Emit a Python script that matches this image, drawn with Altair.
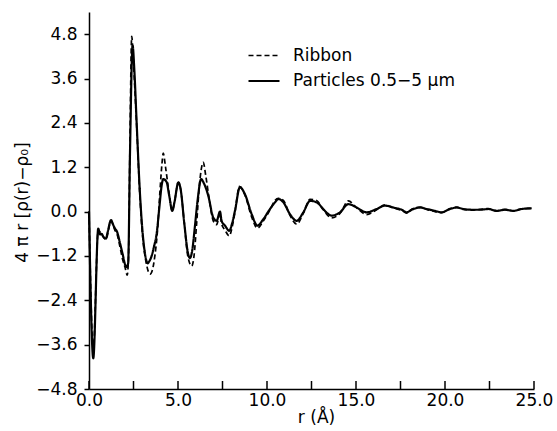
import altair as alt
import pandas as pd

# Particles 0.5-5 um (solid)
r_particles = [0.0, 0.24, 0.52, 0.62, 0.71, 0.8, 0.95, 1.05, 1.24, 1.35, 1.45, 1.58, 1.74, 1.89,
               2.02, 2.12, 2.2, 2.3, 2.45, 2.55, 2.68, 2.85, 3.0, 3.15, 3.3, 3.38, 3.52, 3.65,
               3.8, 3.95, 4.08, 4.17, 4.36, 4.5, 4.68, 4.8, 5.02, 5.15, 5.35, 5.55, 5.67, 5.8,
               5.95, 6.1, 6.3, 6.42, 6.7, 6.98, 7.17, 7.36, 7.45, 7.64, 7.88, 8.05, 8.2, 8.48,
               8.76, 9.14, 9.46, 9.8, 10.17, 10.45, 10.64, 10.92, 11.29, 11.67, 12.04, 12.42,
               12.79, 13.16, 13.4, 13.63, 14.1, 14.57, 15.04, 15.35, 15.6, 16.16, 16.63, 17.1,
               17.57, 17.85, 18.13, 18.6, 18.97, 19.44, 19.8, 20.28, 20.66, 21.03, 21.5, 21.97,
               22.43, 22.9, 23.37, 23.84, 24.3, 24.87]
v_particles = [0.0, -3.97, -0.46, -0.62, -0.6, -0.68, -0.73, -0.55, -0.23, -0.35, -0.45, -0.55,
               -0.85, -1.15, -1.42, -1.5, -1.4, 1.5, 4.49, 3.8, 2.37, 0.6, -0.5, -1.15, -1.4,
               -1.35, -1.2, -0.95, -0.6, 0.1, 0.7, 0.88, 0.8, 0.45, 0.02, 0.25, 0.79, 0.6, -0.3,
               -1.1, -1.26, -1.05, -0.4, 0.3, 0.88, 0.8, 0.43, -0.16, -0.25, 0.0, -0.25, -0.38,
               -0.52, -0.3, 0.02, 0.66, 0.47, -0.07, -0.38, -0.2, 0.07, 0.25, 0.34, 0.25, -0.07,
               -0.25, -0.02, 0.29, 0.25, 0.07, -0.05, -0.11, -0.02, 0.2, 0.11, 0.02, -0.02, 0.07,
               0.16, 0.11, 0.05, -0.02, 0.05, 0.11, 0.07, 0.02, -0.02, 0.07, 0.11, 0.07, 0.05,
               0.05, 0.07, 0.02, 0.05, 0.02, 0.07, 0.09]

# Ribbon (dashed)
r_ribbon = [0.0, 0.24, 0.52, 0.71, 0.95, 1.24, 1.45, 1.58, 1.74, 1.89, 2.02, 2.15, 2.22, 2.3,
            2.4, 2.5, 2.68, 2.85, 3.0, 3.2, 3.43, 3.55, 3.7, 3.85, 3.98, 4.1, 4.17, 4.3, 4.5,
            4.68, 4.8, 5.02, 5.15, 5.35, 5.55, 5.77, 5.9, 6.05, 6.2, 6.42, 6.55, 6.75, 6.98,
            7.17, 7.36, 7.45, 7.64, 7.88, 8.05, 8.2, 8.45, 8.76, 9.14, 9.46, 9.8, 10.17, 10.45,
            10.64, 10.92, 11.29, 11.67, 12.04, 12.42, 12.79, 13.16, 13.63, 14.1, 14.57, 15.04,
            15.6, 16.16, 16.63, 17.1, 17.57, 17.85, 18.13, 18.6, 18.97, 19.44, 19.8, 20.28,
            20.66, 21.03, 21.5, 21.97, 22.43, 22.9, 23.37, 23.84, 24.3, 24.87]
v_ribbon = [0.0, -3.73, -0.5, -0.62, -0.75, -0.25, -0.5, -0.62, -0.95, -1.3, -1.5, -1.72, -1.2,
            1.8, 4.74, 4.0, 2.3, 0.5, -0.6, -1.35, -1.69, -1.6, -1.2, -0.5, 0.5, 1.3, 1.58, 1.2,
            0.5, 0.02, 0.25, 0.79, 0.6, -0.3, -1.2, -1.47, -1.2, -0.3, 0.7, 1.33, 1.0, 0.35,
            -0.25, -0.35, -0.05, -0.33, -0.5, -0.66, -0.4, -0.02, 0.68, 0.45, -0.15, -0.45,
            -0.25, 0.05, 0.3, 0.36, 0.3, -0.1, -0.34, -0.05, 0.33, 0.3, 0.05, -0.17, -0.05,
            0.29, 0.1, -0.08, 0.05, 0.18, 0.1, 0.03, -0.04, 0.06, 0.12, 0.06, 0.0, -0.03, 0.08,
            0.12, 0.06, 0.04, 0.06, 0.08, 0.02, 0.06, 0.02, 0.07, 0.09]

series_names = ["Ribbon", "Particles 0.5\u22125 \u03bcm"]
x_label_values = [0, 5, 10, 15, 20, 25]
x_tick_values = [0, 2.5, 5, 7.5, 10, 12.5, 15, 17.5, 20, 22.5, 25]
y_tick_values = [-4.8, -3.6, -2.4, -1.2, 0.0, 1.2, 2.4, 3.6, 4.8]

FONT = "DejaVu Sans"
FS = 17

df = pd.concat([
    pd.DataFrame({"r": r_ribbon, "v": v_ribbon, "series": series_names[0]}),
    pd.DataFrame({"r": r_particles, "v": v_particles, "series": series_names[1]}),
])
ticks_df = pd.DataFrame({"t": x_tick_values})

xscale = alt.Scale(domain=[0, 25], nice=False, zero=False)
yscale = alt.Scale(domain=[-4.8, 5.4], nice=False, zero=False)

lines = alt.Chart(df).mark_line(color="black", interpolate="monotone").encode(
    x=alt.X("r:Q", scale=xscale,
            axis=alt.Axis(values=x_label_values, format=".1f", ticks=False,
                          labelFlush=False, labelPadding=3, labelFontSize=FS,
                          labelFont=FONT, labelColor="black",
                          title="r  (\u00c5)", titleFont=FONT,
                          titleFontSize=FS, titleFontWeight="normal", titleColor="black",
                          titleX=227, titleY=33, titleBaseline="alphabetic",
                          titleAlign="center",
                          domainColor="black", domainWidth=1.5, grid=False)),
    y=alt.Y("v:Q", scale=yscale,
            axis=alt.Axis(values=y_tick_values, tickSize=5,
                          labelExpr="replace(format(datum.value, '.1f'), '-', '\u2212')",
                          labelFlush=False,
                          tickColor="black", tickWidth=1.5, labelPadding=7,
                          labelFontSize=FS, labelFont=FONT, labelColor="black",
                          title="4 \u03c0 r [\u03c1(r)\u2212\u03c1\u2080]", titleFont=FONT,
                          titleFontSize=FS, titleFontWeight="normal", titleColor="black",
                          titleAngle=-90, titleX=-67, titleY=190, titleAlign="center",
                          titleBaseline="middle", domainColor="black", domainWidth=1.5,
                          grid=False)),
    strokeDash=alt.StrokeDash(
        "series:N",
        scale=alt.Scale(domain=series_names, range=[[5, 3], [1, 0]]),
        legend=alt.Legend(orient="none", legendX=158, legendY=27, title=None,
                          symbolType="stroke", symbolSize=961, symbolStrokeWidth=1.6,
                          symbolStrokeColor="black", labelFont=FONT, labelFontSize=FS,
                          labelColor="black", labelOffset=12, rowPadding=-15,
                          labelLimit=400, padding=0),
    ),
    strokeWidth=alt.StrokeWidth(
        "series:N", scale=alt.Scale(domain=series_names, range=[1.7, 2.2]), legend=None),
    order=alt.Order("r:Q"),
)

tick_marks = alt.Chart(ticks_df).mark_rule(color="black", strokeWidth=1.5).encode(
    x=alt.X("t:Q", scale=xscale),
    y=alt.value(377),
    y2=alt.value(369),
)

chart = alt.layer(lines, tick_marks).properties(
    width=445,
    height=377,
    padding={"left": 89, "top": 12, "right": 23, "bottom": 42},
    autosize=alt.AutoSizeParams(type="none"),
    background="white",
).configure_view(stroke=None)

chart.save("out.html", embed_options={"renderer": "svg", "actions": False})
